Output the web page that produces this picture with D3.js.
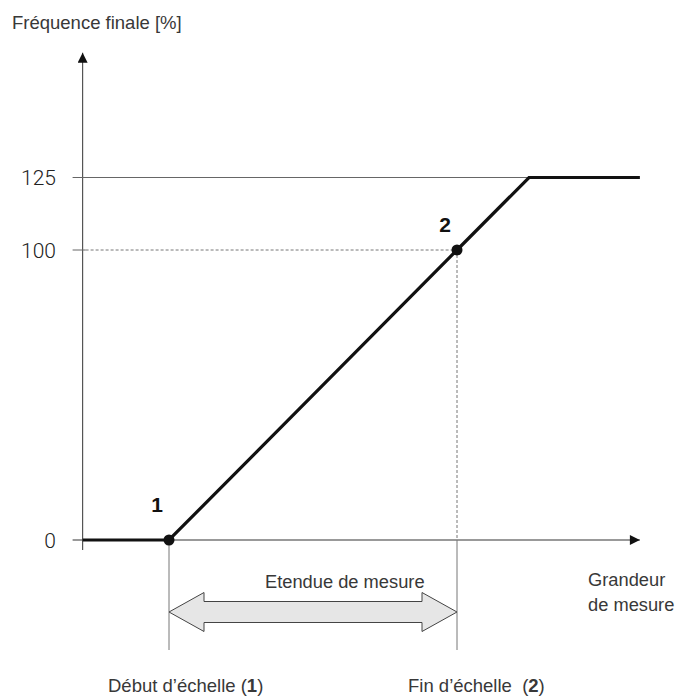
<!DOCTYPE html>
<html>
<head>
<meta charset="utf-8">
<script src="https://cdn.jsdelivr.net/npm/d3@7"></script>
<style>
  body { margin: 0; background: #fff; }
  text { font-family: "Liberation Sans", Arial, sans-serif; fill: #383838; }
</style>
</head>
<body>
<svg id="chart" width="675" height="698"></svg>
<script>
// characteristic curve (measured value % of span -> output frequency %)
let curveX = [-30, 0, 100, 125, 163.5];
let curveY = [0, 0, 100, 125, 125];
let yTicks = [0, 100, 125];
let markers = [{ x: 0, y: 0, label: "1" }, { x: 100, y: 100, label: "2" }];

let svg = d3.select("svg#chart");

let x = d3.scaleLinear().domain([0, 100]).range([169, 457]);
let y = d3.scaleLinear().domain([0, 100]).range([540, 250]);

let xMin = -30, xMax = 163.5, yMax = 168;

// arrowhead
svg.append("defs").append("marker")
	.attr("id", "arrow")
	.attr("viewBox", "0 0 10 10")
	.attr("refX", 10).attr("refY", 5)
	.attr("markerWidth", 12).attr("markerHeight", 10)
	.attr("markerUnits", "userSpaceOnUse")
	.attr("orient", "auto")
	.append("path")
	.attr("d", "M0,0 L10,5 L0,10 z")
	.attr("fill", "#111");

// axes
svg.append("line")
	.attr("x1", x(xMin) - 10).attr("x2", x(xMax))
	.attr("y1", y(0)).attr("y2", y(0))
	.attr("stroke", "#777").attr("stroke-width", 1.4)
	.attr("marker-end", "url(#arrow)");

svg.append("line")
	.attr("x1", x(xMin)).attr("x2", x(xMin))
	.attr("y1", y(0) + 10).attr("y2", y(yMax))
	.attr("stroke", "#555").attr("stroke-width", 1.2)
	.attr("marker-end", "url(#arrow)");

// 125 limit line
svg.append("line")
	.attr("x1", x(xMin) - 10).attr("x2", x(125))
	.attr("y1", y(125)).attr("y2", y(125))
	.attr("stroke", "#666").attr("stroke-width", 1);

// 100 reference (tick + dotted)
svg.append("line")
	.attr("x1", x(xMin) - 10).attr("x2", x(xMin) + 3)
	.attr("y1", y(100)).attr("y2", y(100))
	.attr("stroke", "#666").attr("stroke-width", 1);
svg.append("line")
	.attr("x1", x(xMin) + 3).attr("x2", x(100))
	.attr("y1", y(100)).attr("y2", y(100))
	.attr("stroke", "#777").attr("stroke-width", 1)
	.attr("stroke-dasharray", "3,2");
svg.append("line")
	.attr("x1", x(100)).attr("x2", x(100))
	.attr("y1", y(100)).attr("y2", y(0))
	.attr("stroke", "#777").attr("stroke-width", 1)
	.attr("stroke-dasharray", "3,2");

// vertical guides below the axis
[0, 100].forEach(function(v) {
	svg.append("line")
		.attr("x1", x(v)).attr("x2", x(v))
		.attr("y1", y(0)).attr("y2", 650)
		.attr("stroke", "#777").attr("stroke-width", 1);
});

// y tick labels
svg.selectAll("text.ytick")
	.data(yTicks)
	.enter().append("text")
	.attr("class", "ytick")
	.attr("x", 56)
	.attr("y", function(d) { return y(d); })
	.attr("dy", "0.36em")
	.attr("text-anchor", "end")
	.style("font-size", "21px")
	.style("font-family", "Roboto, sans-serif")
	.style("font-weight", 300)
	.style("fill", "#222")
	.text(function(d) { return d; });

// curve
let line = d3.line()
	.x(function(d) { return x(d[0]); })
	.y(function(d) { return y(d[1]); });

svg.append("path")
	.datum(curveX.map(function(v, i) { return [v, curveY[i]]; }))
	.attr("d", line)
	.attr("fill", "none")
	.attr("stroke", "#111")
	.attr("stroke-width", 3.2)
	.attr("stroke-linejoin", "miter");

// markers
svg.selectAll("circle.mark")
	.data(markers)
	.enter().append("circle")
	.attr("class", "mark")
	.attr("cx", function(d) { return x(d.x); })
	.attr("cy", function(d) { return y(d.y); })
	.attr("r", 5.5)
	.attr("fill", "#111");

// point labels sit up-left of their point
svg.selectAll("text.mlabel")
	.data(markers)
	.enter().append("text")
	.attr("class", "mlabel")
	.attr("x", function(d) { return x(d.x) - 12; })
	.attr("y", function(d, i) { return y(d.y) - (i === 0 ? 28 : 18); })
	.attr("text-anchor", "middle")
	.style("font-size", "21px")
	.style("font-weight", "bold")
	.style("fill", "#111")
	.text(function(d) { return d.label; });

// double arrow for the span
let ay = 612, body = 10.5, head = 19.5, hl = 35;
let x0 = x(0), x1 = x(100);
svg.append("path")
	.attr("d", [
		"M", x0, ay,
		"L", x0 + hl, ay - head,
		"L", x0 + hl, ay - body,
		"L", x1 - hl, ay - body,
		"L", x1 - hl, ay - head,
		"L", x1, ay,
		"L", x1 - hl, ay + head,
		"L", x1 - hl, ay + body,
		"L", x0 + hl, ay + body,
		"L", x0 + hl, ay + head, "Z"].join(" "))
	.attr("fill", "#e6e6e6")
	.attr("stroke", "#444")
	.attr("stroke-width", 1);

// texts
svg.append("text")
	.attr("x", 12).attr("y", 29)
	.style("font-size", "18.5px")
	.text("Fréquence finale [%]");

svg.append("text")
	.attr("x", 265).attr("y", 588)
	.style("font-size", "18.3px")
	.text("Etendue de mesure");

svg.append("text")
	.attr("x", 588).attr("y", 586)
	.style("font-size", "18.3px")
	.text("Grandeur");
svg.append("text")
	.attr("x", 588).attr("y", 611)
	.style("font-size", "18.3px")
	.text("de mesure");

let bottom1 = svg.append("text")
	.attr("x", 108).attr("y", 692)
	.style("font-size", "18.5px");
bottom1.append("tspan").text("Début d’échelle (");
bottom1.append("tspan").style("font-weight", "bold").text("1");
bottom1.append("tspan").text(")");

let bottom2 = svg.append("text")
	.attr("x", 408).attr("y", 692)
	.style("font-size", "18.5px")
	.style("white-space", "pre");
bottom2.append("tspan").text("Fin d’échelle  (");
bottom2.append("tspan").style("font-weight", "bold").text("2");
bottom2.append("tspan").text(")");
</script>
</body>
</html>
